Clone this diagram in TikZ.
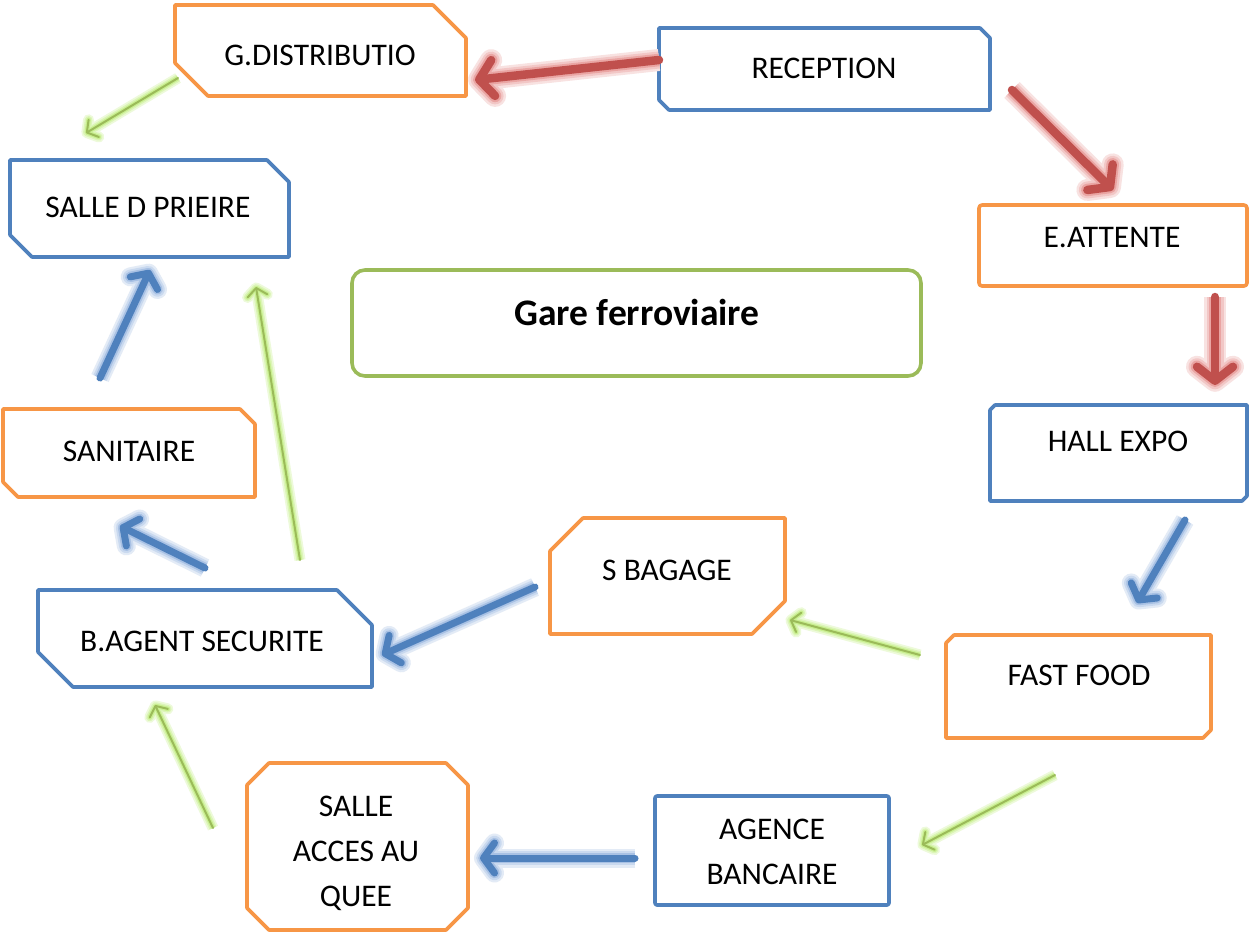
\documentclass[tikz,border=0pt]{standalone}
\usepackage{fontspec}
\setmainfont{Carlito}
\usetikzlibrary{calc,arrows.meta}

\definecolor{cOrange}{HTML}{F79646}
\definecolor{cBlue}{HTML}{4F81BD}
\definecolor{cGreen}{HTML}{9BBB59}
\definecolor{cRed}{HTML}{C0504D}
\definecolor{gRed}{HTML}{E07A78}
\definecolor{gBlue}{HTML}{7FA4D8}
\definecolor{gGreen}{HTML}{B6EA6A}

% outline of a box with cut corners: node, cuts (tl, tr, br, bl), style
\newcommand\cutbox[6]{%
  \draw[#6] ($(#1.north west)+(#2pt,0pt)$) -- ($(#1.north east)+(-#3pt,0pt)$)
    -- ($(#1.north east)+(0pt,-#3pt)$) -- ($(#1.south east)+(0pt,#4pt)$)
    -- ($(#1.south east)+(-#4pt,0pt)$) -- ($(#1.south west)+(#5pt,0pt)$)
    -- ($(#1.south west)+(0pt,#5pt)$) -- ($(#1.north west)+(0pt,-#2pt)$) -- cycle;}

\tikzset{
  area/.style={inner sep=0pt, outer sep=0pt},
  obox/.style={draw=cOrange, line width=3.6pt, line join=round},
  bbox/.style={draw=cBlue, line width=3.6pt, line join=round},
  label/.style={font=\fontsize{31.5}{45}\selectfont, align=center, inner sep=0pt},
  bigtip/.style={-{Straight Barb[round,length=14pt,width=36pt]}},
  midtip/.style={-{Straight Barb[round,length=11pt,width=30pt]}},
  thintip/.style={-{Straight Barb[round,length=8pt,width=20pt]}},
  % soft halo: wider light strokes, pushed forward so every layer shares one apex
  halo/.style n args={4}{preaction={draw=#1, line width=#2, tipsel=#4, shorten >=#3}},
  tipsel/.code={\pgfkeysalso{/tikz/#1}},
  redarrow/.style={line cap=round, line join=round,
    halo={gRed!22!white}{22pt}{-6.75pt}{bigtip},
    halo={gRed!42!white}{17pt}{-4.25pt}{bigtip},
    halo={gRed!68!white}{12.5pt}{-2pt}{bigtip},
    draw=cRed, line width=8.5pt, bigtip},
  bluearrow/.style={line cap=round, line join=round,
    halo={gBlue!22!white}{19pt}{-6pt}{midtip},
    halo={gBlue!42!white}{14.5pt}{-3.75pt}{midtip},
    halo={gBlue!68!white}{10.5pt}{-1.75pt}{midtip},
    draw=cBlue, line width=7pt, midtip},
  greenarrow/.style={line cap=round, line join=round,
    halo={gGreen!25!white}{11pt}{-4.5pt}{thintip},
    halo={gGreen!48!white}{7.5pt}{-2.75pt}{thintip},
    halo={gGreen!75!white}{4.5pt}{-1.25pt}{thintip},
    draw=cGreen, line width=2pt, thintip},
}

\begin{document}
\begin{tikzpicture}[x=1pt,y=-1pt]
\useasboundingbox[fill=white] (0,0) rectangle (1249,938);

% box areas
\node[area, minimum width=291pt, minimum height=91pt]  (gd)   at (320.5,50.5) {};
\node[area, minimum width=331pt, minimum height=82pt]  (rec)  at (824.5,69) {};
\node[area, minimum width=268pt, minimum height=81pt]  (att)  at (1113,245.5) {};
\node[area, minimum width=279pt, minimum height=97pt]  (prie) at (149.5,208.5) {};
\node[area, minimum width=257pt, minimum height=96pt]  (hall) at (1118.5,453) {};
\node[area, minimum width=252pt, minimum height=88pt]  (san)  at (129,453) {};
\node[area, minimum width=334pt, minimum height=97pt]  (bas)  at (205,638.5) {};
\node[area, minimum width=235pt, minimum height=116pt] (bag)  at (667.5,576) {};
\node[area, minimum width=265pt, minimum height=103pt] (fast) at (1078.5,686.5) {};
\node[area, minimum width=221pt, minimum height=167pt] (acc)  at (357.5,846.5) {};
\node[area, minimum width=234pt, minimum height=109pt] (agc)  at (772,850.5) {};
\node[area, minimum width=569pt, minimum height=106pt, draw=cGreen,
      line width=3.6pt, rounded corners=13pt] (gare) at (636.5,323) {};

% outlines
\cutbox{gd}{0}{33}{0}{33}{obox}
\cutbox{rec}{0}{10}{0}{10}{bbox}
\draw[obox, rounded corners=3pt] (att.north west) rectangle (att.south east);
\cutbox{prie}{0}{22}{0}{22}{bbox}
\cutbox{hall}{5}{0}{5}{0}{bbox}
\cutbox{san}{0}{15}{0}{15}{obox}
\cutbox{bas}{0}{35}{0}{35}{bbox}
\cutbox{bag}{33}{0}{33}{0}{obox}
\cutbox{fast}{8}{0}{8}{0}{obox}
\cutbox{acc}{22}{22}{22}{22}{obox}
\draw[bbox, rounded corners=2pt] (agc.north west) rectangle (agc.south east);

% texts
\node[label] (gdt)   at (320,55)   {G.DISTRIBUTIO};
\node[label] (rect)  at (824,68)   {RECEPTION};
\node[label] (attt)  at (1112,238) {E.ATTENTE};
\node[label] (priet) at (148,207)  {SALLE D PRIEIRE};
\node[label] (hallt) at (1118,441) {HALL EXPO};
\node[label] (sant)  at (129,451)  {SANITAIRE};
\node[label] (bast)  at (202,641)  {B.AGENT SECURITE};
\node[label] (bagt)  at (667,570)  {S BAGAGE};
\node[label] (fastt) at (1079,675) {FAST FOOD};
\node[label] (acct)  at (356,853)  {SALLE\\ACCES AU\\QUEE};
\node[label] (agct)  at (772,851.5) {AGENCE\\BANCAIRE};
\node[font=\fontsize{37.5}{44}\selectfont\bfseries, inner sep=0pt] (garet) at (637,312) {Gare ferroviaire};

% connectors
\draw[redarrow]   ($(rec.west)+(0pt,9pt)$) -- ($(gd.east)+(9pt,-29.5pt)$);
\draw[redarrow]   ($(rec.south east)+(22pt,20pt)$) -- ($(att.north)+(0pt,15pt)$);
\draw[redarrow]   ($(att.south east)+(-32pt,-11pt)$) -- ($(hall.north east)+(-32pt,20pt)$);
\draw[bluearrow]  ($(hall.south east)+(-62pt,-19pt)$) -- ($(fast.north east)+(-74pt,32pt)$);
\draw[greenarrow] ($(fast.west)+(-26pt,31.5pt)$) -- ($(bag.east)+(5pt,-44pt)$);
\draw[bluearrow]  ($(bag.west)+(-15pt,-11pt)$) -- ($(bas.east)+(10pt,-16.5pt)$);
\draw[greenarrow] ($(fast.south)+(-23.5pt,-37pt)$) -- ($(agc.east)+(33pt,5.5pt)$);
\draw[bluearrow]  ($(agc.west)+(-20pt,-7.5pt)$) -- ($(acc.east)+(12pt,-11.5pt)$);
\draw[greenarrow] ($(acc.north west)+(-34pt,-65pt)$) -- ($(bas.south)+(-50pt,-18pt)$);
\draw[bluearrow]  ($(bas.north)+(0pt,22pt)$) -- ($(san.south)+(-9pt,-29pt)$);
\draw[greenarrow] ($(bas.north east)+(-72pt,30pt)$) -- ($(prie.south east)+(-33pt,-30pt)$);
\draw[bluearrow]  ($(san.north)+(-29pt,31pt)$) -- ($(prie.south)+(0.5pt,-13pt)$);
\draw[greenarrow] ($(gd.south west)+(3pt,18pt)$) -- ($(prie.north west)+(76pt,27pt)$);
\end{tikzpicture}
\end{document}
